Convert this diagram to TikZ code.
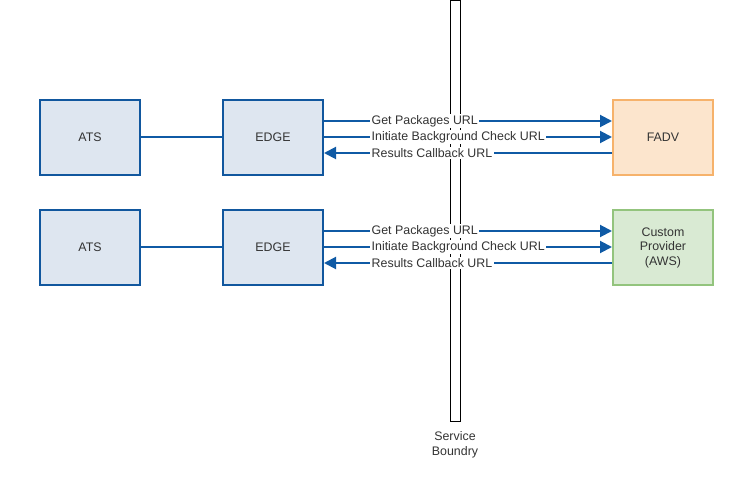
\documentclass[tikz,border=0pt]{standalone}
\usepackage{fontspec}
\setmainfont{Liberation Sans}
\usetikzlibrary{arrows.meta}
\definecolor{bluefill}{HTML}{DEE6F0}
\definecolor{bluedraw}{HTML}{11579E}
\definecolor{arrowblue}{HTML}{0F5AA5}
\definecolor{orangefill}{HTML}{FCE5CD}
\definecolor{orangedraw}{HTML}{F6B26B}
\definecolor{greenfill}{HTML}{D9EAD3}
\definecolor{greendraw}{HTML}{93C47D}
\definecolor{txt}{HTML}{333333}
\tikzset{
  box/.style={draw=bluedraw, fill=bluefill, line width=2pt, minimum width=100pt, minimum height=75pt, inner sep=0pt, font=\fontsize{12.4}{14.5}\selectfont, text=txt, align=center},
  fadv/.style={box, draw=orangedraw, fill=orangefill},
  prov/.style={box, draw=greendraw, fill=greenfill},
  conn/.style={color=arrowblue, line width=2pt},
  msg/.style={color=arrowblue, line width=2pt, -{Triangle[length=12pt,width=12pt]}},
  lbl/.style={fill=white, inner sep=1.5pt, anchor=west, font=\fontsize{12.4}{14.5}\selectfont, text=txt},
}
\begin{document}
\begin{tikzpicture}[x=1pt,y=-1pt]
\useasboundingbox (0,0) rectangle (739,478);
% service boundary
\node[draw=black, line width=1pt, fill=white, minimum width=10pt, minimum height=420pt, inner sep=0pt, anchor=north west] (sb) at (450,0.5) {};
\node[font=\fontsize{12.4}{14.5}\selectfont, text=txt, align=center, anchor=north] (sbl) at (455,428) {Service\\Boundry};
% row 1
\node[box] (ats1) at (90,137.5) {ATS};
\node[box] (edge1) at (273,137.5) {EDGE};
\node[fadv] (fadv) at (663,137.5) {FADV};
% row 2
\node[box] (ats2) at (90,247.5) {ATS};
\node[box] (edge2) at (273,247.5) {EDGE};
\node[prov] (cust) at (663,247.5) {Custom\\Provider\\(AWS)};
\draw[conn] (ats1) -- (edge1);
\draw[conn] (ats2) -- (edge2);
% messages row 1
\coordinate (e1a) at (324,121); \coordinate (f1a) at (612,121);
\coordinate (e1b) at (324,137); \coordinate (f1b) at (612,137);
\coordinate (e1c) at (324,153); \coordinate (f1c) at (612,153);
\draw[msg] (e1a) -- (f1a);
\draw[msg] (e1b) -- (f1b);
\draw[msg] (f1c) -- (e1c);
\node[lbl] (l1a) at (370,121) {Get Packages URL};
\node[lbl] (l1b) at (370,137) {Initiate Background Check URL};
\node[lbl] (l1c) at (370,153) {Results Callback URL};
% messages row 2
\coordinate (e2a) at (324,231); \coordinate (f2a) at (612,231);
\coordinate (e2b) at (324,247); \coordinate (f2b) at (612,247);
\coordinate (e2c) at (324,263); \coordinate (f2c) at (612,263);
\draw[msg] (e2a) -- (f2a);
\draw[msg] (e2b) -- (f2b);
\draw[msg] (f2c) -- (e2c);
\node[lbl] (l2a) at (370,231) {Get Packages URL};
\node[lbl] (l2b) at (370,247) {Initiate Background Check URL};
\node[lbl] (l2c) at (370,263) {Results Callback URL};
\end{tikzpicture}
\end{document}
